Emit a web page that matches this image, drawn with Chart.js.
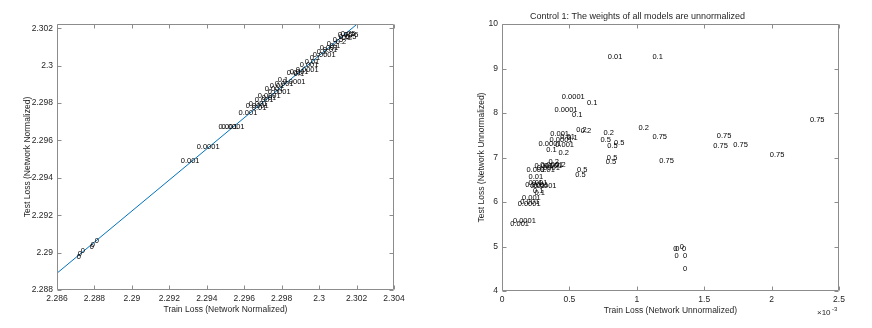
<!DOCTYPE html>
<html lang="en">
<head>
<meta charset="UTF-8">
<title>Train vs test loss</title>
<script src="https://cdn.jsdelivr.net/npm/chart.js@4.4.1/dist/chart.umd.min.js"></script>
<style>
  body { margin: 0; background: #fff; }
  .wrap { position: relative; width: 872px; height: 328px; }
  canvas { position: absolute; top: 0; }
  #left { left: 0; }
  #right { left: 436px; }
</style>
</head>
<body>
<div class="wrap">
  <canvas id="left" width="436" height="328"></canvas>
  <canvas id="right" width="436" height="328"></canvas>
</div>
<script>
// left panel - network normalized
var leftTrain = [2.28705, 2.28711, 2.28727, 2.28775, 2.28780, 2.28801,
  2.29261, 2.29346, 2.29463, 2.29479, 2.29570, 2.29608, 2.29624, 2.29640, 2.29656, 2.29672,
  2.29693, 2.29709, 2.29725, 2.29736, 2.29763, 2.29779, 2.29805, 2.29827, 2.29843, 2.29864,
  2.29875, 2.29896, 2.29923, 2.29950, 2.29966, 2.29987, 2.30003, 2.30019, 2.30041, 2.30057,
  2.30073, 2.30089, 2.30105, 2.30116, 2.30132, 2.30143, 2.30100, 2.30121];
var leftTest = [2.28977, 2.28993, 2.29009, 2.29030, 2.29041, 2.29063,
  2.29493, 2.29568, 2.29670, 2.29670, 2.29749, 2.29786, 2.29797, 2.29776, 2.29818, 2.29840,
  2.29829, 2.29877, 2.29861, 2.29893, 2.29904, 2.29926, 2.29915, 2.29963, 2.29968, 2.29958,
  2.29979, 2.30006, 2.30022, 2.30044, 2.30060, 2.30076, 2.30097, 2.30086, 2.30119, 2.30108,
  2.30140, 2.30129, 2.30156, 2.30172, 2.30167, 2.30156, 2.30167, 2.30151];
var leftLabels = ['0', '0', '0', '0', '0', '0',
  '0.001', '0.0001', '0.001', '0.0001', '0.001', '0.0001', '0.001', '0.01', '0.001', '0.0001',
  '0.01', '0.001', '0.0001', '0.01', '0.001', '0.1', '0.0001', '0.01', '0.001', '0.1',
  '0.0001', '0.001', '0.01', '0.1', '0.0001', '0.2', '0.001', '0.01', '0.2', '0.1',
  '0.5', '0.2', '0.5', '0.75', '0.75', '0.5', '0.75', '0.2'];
var fitTrain = [2.286, 2.302];
var fitTest = [2.2889, 2.3022];
var leftXTicks = [2.286, 2.288, 2.29, 2.292, 2.294, 2.296, 2.298, 2.3, 2.302, 2.304];
var leftYTicks = [2.288, 2.29, 2.292, 2.294, 2.296, 2.298, 2.3, 2.302];

// right panel - unnormalized, train loss in units of 1e-3
var rightTrain = [0.785, 1.116, 0.444, 0.63, 0.39, 0.519, 0.55, 0.585, 0.753, 0.73,
  0.83, 0.78, 1.012, 1.116, 1.593, 1.567, 1.716, 1.987, 2.284, 1.167,
  0.778, 0.77, 0.556, 0.543, 1.27, 1.285, 1.318, 1.335, 1.28, 1.343,
  1.343, 0.271, 0.328, 0.419, 0.353, 0.395, 0.432, 0.358, 0.484, 0.181,
  0.241, 0.284, 0.345, 0.395, 0.284, 0.197, 0.259, 0.308, 0.173, 0.197,
  0.21, 0.222, 0.23, 0.234, 0.241, 0.148, 0.136, 0.116, 0.081, 0.061];
var rightTest = [9.258, 9.258, 8.35, 8.22, 8.07, 7.96, 7.63, 7.60, 7.56, 7.40,
  7.33, 7.25, 7.67, 7.47, 7.49, 7.27, 7.28, 7.06, 7.85, 6.92,
  6.99, 6.89, 6.71, 6.60, 4.94, 4.95, 5.00, 4.94, 4.78, 4.78,
  4.49, 7.31, 7.16, 7.10, 7.40, 7.28, 7.46, 7.53, 7.44, 6.72,
  6.81, 6.83, 6.89, 6.84, 6.72, 6.57, 6.76, 6.80, 6.38, 6.42,
  6.35, 6.42, 6.25, 6.36, 6.20, 6.09, 6.01, 5.96, 5.58, 5.51];
var rightLabels = ['0.01', '0.1', '0.0001', '0.1', '0.0001', '0.1', '0.2', '0.2', '0.2', '0.5',
  '0.5', '0.5', '0.2', '0.75', '0.75', '0.75', '0.75', '0.75', '0.75', '0.75',
  '0.5', '0.5', '0.5', '0.5', '0', '0', '0', '0', '0', '0',
  '0', '0.0001', '0.1', '0.2', '0.0001', '0.001', '0.01', '0.001', '0.1', '0.001',
  '0.001', '0.0001', '0.2', '0.2', '0.01', '0.01', '0.0001', '0.001', '0.0001', '0.001',
  '0.01', '0.1', '0.1', '0.0001', '0.1', '0.001', '0.001', '0.0001', '0.0001', '0.001'];
var rightXTicks = [0, 0.5, 1, 1.5, 2, 2.5];
var rightYTicks = [4, 5, 6, 7, 8, 9, 10];

var FONT = '"Liberation Sans", Arial, sans-serif';
var INK = '#262626';

function pts(xs, ys) {
  return xs.map(function (v, i) { return { x: v, y: ys[i] }; });
}

// matlab style box with inward ticks on all four sides
var boxPlugin = {
  id: 'box',
  afterDatasetsDraw: function (chart) {
    var ctx = chart.ctx, a = chart.chartArea;
    var sx = chart.scales.x, sy = chart.scales.y;
    var l = Math.round(a.left) + 0.5, r = Math.round(a.right) - 0.5;
    var t = Math.round(a.top) + 0.5, b = Math.round(a.bottom) - 0.5;
    ctx.save();
    ctx.strokeStyle = '#8c8c8c';
    ctx.lineWidth = 1;
    ctx.beginPath();
    ctx.moveTo(l, t); ctx.lineTo(r, t); ctx.lineTo(r, b); ctx.lineTo(l, b); ctx.closePath();
    sx.ticks.forEach(function (tk) {
      var px = Math.round(sx.getPixelForValue(tk.value)) + 0.5;
      ctx.moveTo(px, b); ctx.lineTo(px, b - 4);
      ctx.moveTo(px, t); ctx.lineTo(px, t + 4);
    });
    sy.ticks.forEach(function (tk) {
      var py = Math.round(sy.getPixelForValue(tk.value)) + 0.5;
      ctx.moveTo(l, py); ctx.lineTo(l + 4, py);
      ctx.moveTo(r, py); ctx.lineTo(r - 4, py);
    });
    ctx.stroke();
    var ex = chart.options.plugins.box.exponent;
    if (ex) {
      ctx.fillStyle = INK;
      ctx.textBaseline = 'middle';
      ctx.textAlign = 'left';
      ctx.font = '8px ' + FONT;
      ctx.fillText('\u00d710', a.right - 22, 313);
      ctx.font = '6px ' + FONT;
      ctx.fillText(ex, a.right - 7, 309);
    }
    ctx.restore();
  }
};

// text label at each point, left aligned like matlab text()
var textPlugin = {
  id: 'pointText',
  afterDatasetsDraw: function (chart) {
    var ctx = chart.ctx;
    chart.data.datasets.forEach(function (ds, i) {
      if (!ds.pointText) return;
      var meta = chart.getDatasetMeta(i);
      ctx.save();
      ctx.font = '7.5px ' + FONT;
      ctx.fillStyle = '#000';
      ctx.textAlign = 'left';
      ctx.textBaseline = 'middle';
      meta.data.forEach(function (el, j) { ctx.fillText(ds.pointText[j], el.x, el.y); });
      ctx.restore();
    });
  }
};

function makeScales(o) {
  var tickFont = { family: FONT, size: 8.5 };
  return {
    x: {
      type: 'linear', min: o.xmin, max: o.xmax,
      afterBuildTicks: function (s) { s.ticks = o.xticks.map(function (v) { return { value: v }; }); },
      afterFit: function (s) { s.height = o.xh; },
      ticks: { font: tickFont, color: INK, padding: 4, maxRotation: 0, callback: function (v) { return String(v); } },
      grid: { display: false, drawTicks: false },
      border: { display: false },
      title: { display: true, text: o.xtitle, font: { family: FONT, size: 8.5 }, color: INK, padding: { top: 0, bottom: o.xpad } }
    },
    y: {
      type: 'linear', min: o.ymin, max: o.ymax,
      afterBuildTicks: function (s) { s.ticks = o.yticks.map(function (v) { return { value: v }; }); },
      afterFit: function (s) { s.width = o.yw; },
      ticks: { font: tickFont, color: INK, padding: 4, callback: function (v) { return String(v); } },
      grid: { display: false, drawTicks: false },
      border: { display: false },
      title: { display: true, text: o.ytitle, font: { family: FONT, size: 8.5 }, color: INK, padding: { top: o.ypad, bottom: 0 } }
    }
  };
}

new Chart(document.getElementById('left'), {
  type: 'scatter',
  data: {
    datasets: [
      { data: pts(leftTrain, leftTest), pointText: leftLabels, pointRadius: 0, pointHoverRadius: 0 },
      { data: pts(fitTrain, fitTest), showLine: true, borderColor: '#0072bd', borderWidth: 1, pointRadius: 0 }
    ]
  },
  options: {
    responsive: false,
    animation: false,
    layout: { padding: { top: 24, right: 42, left: 0, bottom: 0 } },
    plugins: { legend: { display: false }, tooltip: { enabled: false }, box: {} },
    scales: makeScales({
      xmin: 2.286, xmax: 2.304, xticks: leftXTicks, xh: 38, xpad: 13, xtitle: 'Train Loss (Network Normalized)',
      ymin: 2.288, ymax: 2.30223, yticks: leftYTicks, yw: 57, ypad: 23, ytitle: 'Test Loss (Network Normalized)'
    })
  },
  plugins: [boxPlugin, textPlugin]
});

new Chart(document.getElementById('right'), {
  type: 'scatter',
  data: {
    datasets: [
      { data: pts(rightTrain, rightTest), pointText: rightLabels, pointRadius: 0, pointHoverRadius: 0 }
    ]
  },
  options: {
    responsive: false,
    animation: false,
    layout: { padding: { top: 0, right: 33, left: 0, bottom: 0 } },
    plugins: {
      legend: { display: false },
      tooltip: { enabled: false },
      title: {
        display: true,
        text: 'Control 1: The weights of all models are unnormalized',
        font: { family: FONT, size: 9, weight: 'normal' },
        color: INK,
        padding: { top: 11.6, bottom: 1.6 }
      },
      box: { exponent: '-3' }
    },
    scales: makeScales({
      xmin: 0, xmax: 2.5, xticks: rightXTicks, xh: 37, xpad: 12, xtitle: 'Train Loss (Network Unnormalized)',
      ymin: 4, ymax: 10, yticks: rightYTicks, yw: 66, ypad: 40.6, ytitle: 'Test Loss (Network Unnormalized)'
    })
  },
  plugins: [boxPlugin, textPlugin]
});
</script>
</body>
</html>
